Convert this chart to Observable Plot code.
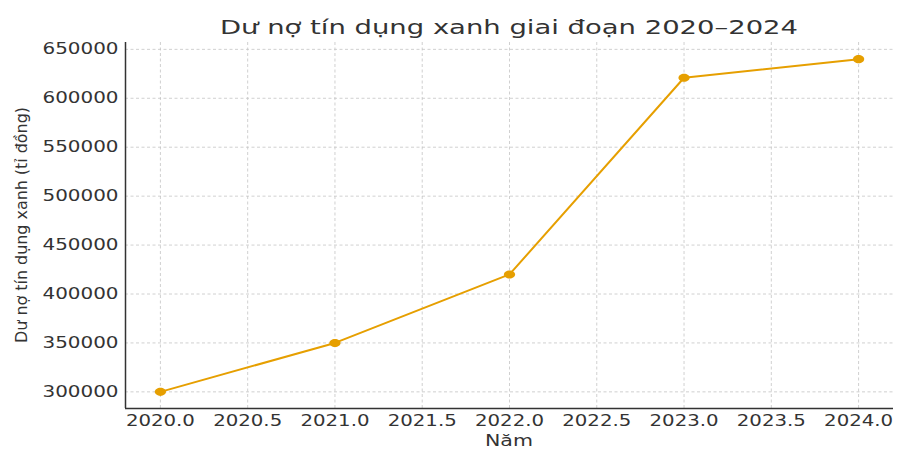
<!DOCTYPE html>
<html>
<head>
<meta charset="utf-8">
<script src="https://cdn.jsdelivr.net/npm/d3@7"></script>
<script src="https://cdn.jsdelivr.net/npm/@observablehq/plot@0.6"></script>
<style>
  html, body { margin: 0; padding: 0; background: #fff; }
  #chart svg { display: block; }
</style>
</head>
<body>
<div id="chart"></div>
<script>
const titleText = "Dư nợ tín dụng xanh giai đoạn 2020–2024";
const xLabel = "Năm";
const yLabel = "Dư nợ tín dụng xanh (tỉ đồng)";
const years = [2020, 2021, 2022, 2023, 2024];
const values = [300000, 350000, 420000, 621000, 640000];
const xTicks = [2020, 2020.5, 2021, 2021.5, 2022, 2022.5, 2023, 2023.5, 2024];
const yTicks = [300000, 350000, 400000, 450000, 500000, 550000, 600000, 650000];

const data = years.map((y, i) => ({year: y, value: values[i]}));
const xDomain = [2019.8, 2024.2];
const yDomain = [283000, 657000];
const color = "#E69F00";
const ink = "#333333";

const ellipse = {
  draw(ctx, size) {
    const r = Math.sqrt(size / Math.PI);
    const rx = r * 1.25, ry = r * 0.9, k = 0.5523;
    ctx.moveTo(rx, 0);
    ctx.bezierCurveTo(rx, k * ry, k * rx, ry, 0, ry);
    ctx.bezierCurveTo(-k * rx, ry, -rx, k * ry, -rx, 0);
    ctx.bezierCurveTo(-rx, -k * ry, -k * rx, -ry, 0, -ry);
    ctx.bezierCurveTo(k * rx, -ry, rx, -k * ry, rx, 0);
    ctx.closePath();
  }
};

const plot = Plot.plot({
  width: 918,
  height: 465,
  marginLeft: 125,
  marginRight: 25,
  marginTop: 42,
  marginBottom: 57,
  style: {fontFamily: "DejaVu Sans", fontSize: "16px", color: ink, background: "#fff"},
  x: {domain: xDomain},
  y: {domain: yDomain},
  marks: [
    Plot.gridX(xTicks, {stroke: "#c4c4c4", strokeOpacity: 1, strokeWidth: 0.8, strokeDasharray: "3,2.5"}),
    Plot.gridY(yTicks, {stroke: "#c4c4c4", strokeOpacity: 1, strokeWidth: 0.8, strokeDasharray: "3,2.5"}),
    Plot.axisX(xTicks, {tickSize: 0, tickPadding: 6, tickFormat: d3.format(".1f"), label: null, fill: ink}),
    Plot.axisY(yTicks, {tickSize: 0, tickPadding: 7, tickFormat: d3.format("d"), label: null, fill: ink}),
    Plot.ruleX([xDomain[0]], {stroke: ink, strokeWidth: 1.5}),
    Plot.ruleY([yDomain[0]], {stroke: ink, strokeWidth: 1.5}),
    Plot.line(data, {x: "year", y: "value", stroke: color, strokeWidth: 2}),
    Plot.dot(data, {x: "year", y: "value", fill: color, stroke: "none", r: 4.5, symbol: ellipse})
  ]
});

const svg = d3.select(plot);
svg.selectAll('g[aria-label="y-axis tick label"] text')
  .attr("textLength", 76).attr("lengthAdjust", "spacingAndGlyphs");
svg.selectAll('g[aria-label="x-axis tick label"] text')
  .attr("textLength", 69).attr("lengthAdjust", "spacingAndGlyphs");

svg.append("text")
  .attr("x", 509).attr("y", 34)
  .attr("text-anchor", "middle")
  .attr("font-family", "DejaVu Sans").attr("font-size", 19)
  .attr("fill", ink)
  .attr("textLength", 578).attr("lengthAdjust", "spacingAndGlyphs")
  .text(titleText);

svg.append("text")
  .attr("x", 509).attr("y", 446)
  .attr("text-anchor", "middle")
  .attr("font-family", "DejaVu Sans").attr("font-size", 15)
  .attr("fill", ink)
  .attr("textLength", 48).attr("lengthAdjust", "spacingAndGlyphs")
  .text(xLabel);

svg.append("text")
  .attr("transform", "translate(27,225) rotate(-90)")
  .attr("text-anchor", "middle")
  .attr("font-family", "DejaVu Sans").attr("font-size", 15)
  .attr("fill", ink)
  .attr("textLength", 236).attr("lengthAdjust", "spacingAndGlyphs")
  .text(yLabel);

document.getElementById("chart").appendChild(plot);
</script>
</body>
</html>
